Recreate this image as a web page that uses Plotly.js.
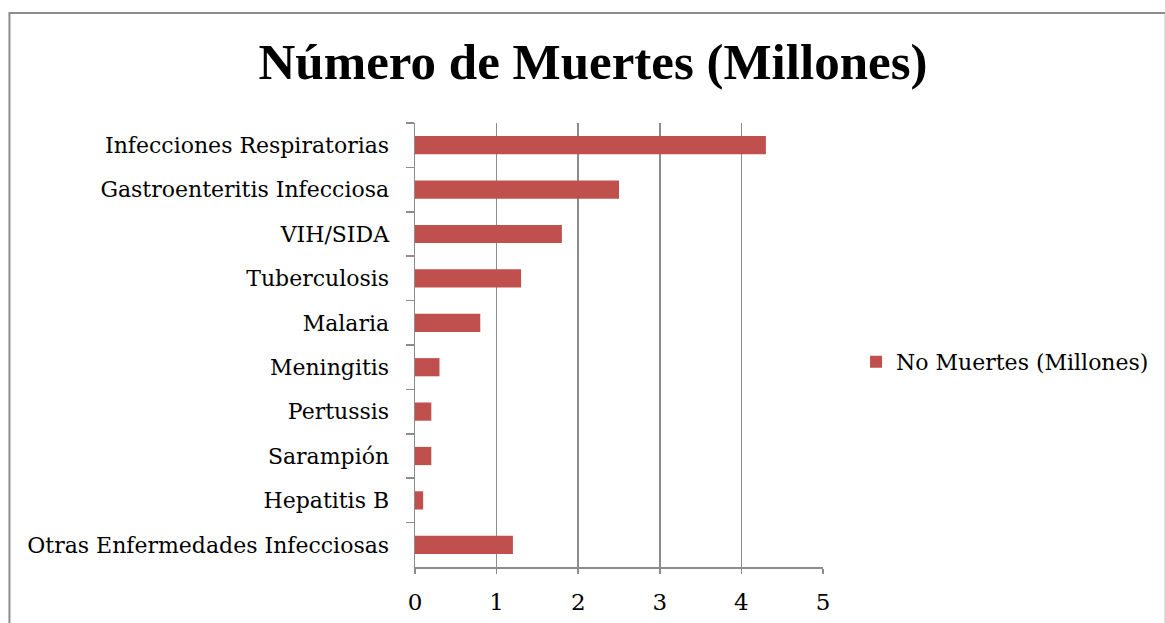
<!DOCTYPE html>
<html>
<head>
<meta charset="utf-8">
<script src="https://cdn.plot.ly/plotly-3.0.1.min.js"></script>
<style>
html,body{margin:0;padding:0;background:#fff;}
#chart{width:1165px;height:623px;}
</style>
</head>
<body>
<div id="chart"></div>
<script>
const categories = [
  "Infecciones Respiratorias",
  "Gastroenteritis Infecciosa",
  "VIH/SIDA",
  "Tuberculosis",
  "Malaria",
  "Meningitis",
  "Pertussis",
  "Sarampión",
  "Hepatitis B",
  "Otras Enfermedades Infecciosas"
];
const deaths = [4.3, 2.5, 1.8, 1.3, 0.8, 0.3, 0.2, 0.2, 0.1, 1.2];
const seriesName = "No Muertes (Millones)";
const titleText = "Número de Muertes (Millones)";
const xTicks = [0, 1, 2, 3, 4, 5];

const labelFont = {family: "DejaVu Serif", size: 22, color: "#000"};

const trace = {
  type: "bar",
  orientation: "h",
  y: categories,
  x: deaths,
  name: seriesName,
  showlegend: true,
  width: 0.41,
  marker: {color: "#C0504D", line: {width: 0}},
  hoverinfo: "x+y"
};

const layout = {
  width: 1165,
  height: 623,
  paper_bgcolor: "#ffffff",
  plot_bgcolor: "rgba(0,0,0,0)",
  margin: {l: 414.5, r: 341.5, t: 123, b: 56, pad: 0, autoexpand: false},
  title: {
    text: "<b>" + titleText + "</b>",
    font: {family: "Liberation Serif", size: 51, color: "#000"},
    x: 0.509, xanchor: "center", xref: "container",
    y: 0.902, yanchor: "middle", yref: "container"
  },
  xaxis: {
    range: [0, 5],
    tickvals: xTicks,
    ticktext: xTicks.map(String),
    showgrid: true, gridcolor: "#8c8c8c", gridwidth: 1.5,
    zeroline: false,
    showline: true, linecolor: "#8c8c8c", linewidth: 1.5,
    ticks: "outside", ticklen: 5, tickcolor: "#8c8c8c", tickwidth: 1.5,
    tickfont: {family: "DejaVu Serif", size: 23, color: "#000"},
    ticklabelstandoff: 9,
    automargin: false,
    fixedrange: true
  },
  yaxis: {
    type: "category",
    autorange: "reversed",
    showgrid: false,
    zeroline: false,
    showline: true, linecolor: "#8c8c8c", linewidth: 1.5,
    ticks: "outside", tickson: "boundaries", ticklen: 8, tickcolor: "#8c8c8c", tickwidth: 1.5,
    tickfont: labelFont,
    ticklabelstandoff: 20,
    automargin: false,
    fixedrange: true
  },
  legend: {
    x: 1.081, xanchor: "left",
    y: 0.462, yanchor: "middle",
    font: labelFont,
    bgcolor: "rgba(0,0,0,0)",
    borderwidth: 0
  },
  shapes: [{
    type: "rect", xref: "paper", yref: "paper",
    x0: -0.994, x1: 1.84, y0: -0.3, y1: 1.2477,
    line: {color: "#8c8c8c", width: 2},
    fillcolor: "rgba(0,0,0,0)",
    layer: "below"
  }]
};

Plotly.newPlot("chart", [trace], layout, {displayModeBar: false, staticPlot: true});
</script>
</body>
</html>
